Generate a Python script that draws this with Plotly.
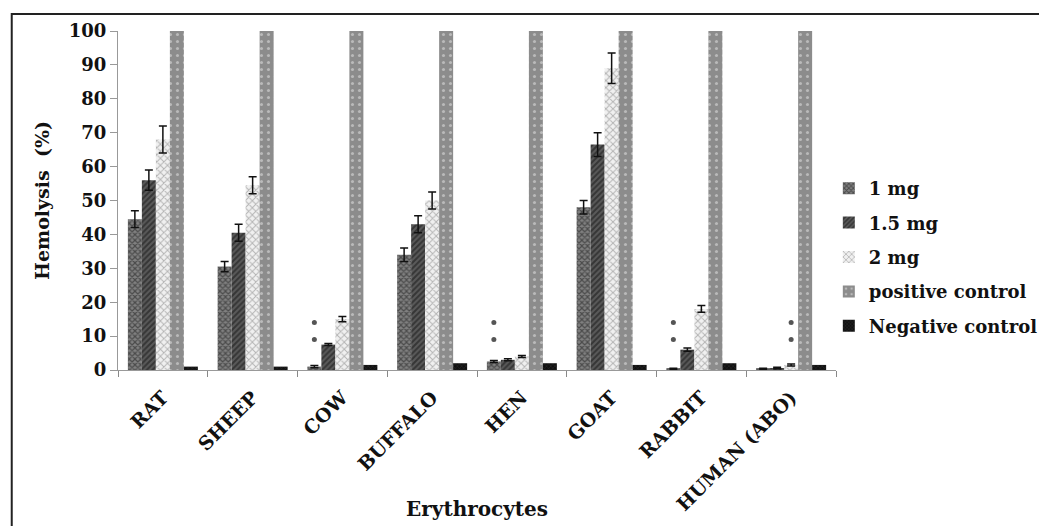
import plotly.graph_objects as go

categories = ["RAT", "SHEEP", "COW", "BUFFALO", "HEN", "GOAT", "RABBIT", "HUMAN (ABO)"]
series_names = ["1 mg", "1.5 mg", "2 mg", "positive control", "Negative control"]
v_1mg = [44.5, 30.5, 1.0, 34.0, 2.5, 48.0, 0.3, 0.3]
v_15mg = [56.0, 40.5, 7.5, 43.0, 3.0, 66.5, 6.0, 0.6]
v_2mg = [68.0, 54.5, 15.0, 50.0, 4.0, 89.0, 18.0, 1.5]
v_pos = [100, 100, 100, 100, 100, 100, 100, 100]
v_neg = [1.0, 1.0, 1.5, 2.0, 2.0, 1.5, 2.0, 1.5]
e_1mg = [2.5, 1.5, 0.3, 2.0, 0.3, 2.0, 0.2, 0.2]
e_15mg = [3.0, 2.5, 0.3, 2.5, 0.3, 3.5, 0.5, 0.2]
e_2mg = [4.0, 2.5, 0.8, 2.5, 0.3, 4.5, 1.0, 0.3]
# significance stars: category index, series index, heights
star_cats = [2, 4, 6, 7]
star_series = [0, 0, 0, 2]
star_heights = [9.0, 14.0]

font_family = "DejaVu Serif, Liberation Serif, serif"
bargap = 0.22
nser = 5

styles = [
    dict(color="#5e5e5e", pattern=dict(shape="x", fgcolor="#151515", bgcolor="#808080", size=4, solidity=0.5)),
    dict(color="#333333", pattern=dict(shape="/", fgcolor="#111", bgcolor="#5a5a5a", size=4, solidity=0.5)),
    dict(color="#cfcfcf", pattern=dict(shape="x", fgcolor="#777", bgcolor="#f0f0f0", size=5, solidity=0.35)),
    dict(color="#8c8c8c", pattern=dict(shape=".", fgcolor="#e8e8e8", bgcolor="#8c8c8c", size=7, solidity=0.15)),
    dict(color="#1a1a1a", pattern=dict(shape="x", fgcolor="#444", bgcolor="#111", size=3, solidity=0.3)),
]
values = [v_1mg, v_15mg, v_2mg, v_pos, v_neg]
errors = [e_1mg, e_15mg, e_2mg, None, None]

xs = list(range(len(categories)))
fig = go.Figure()
for k in range(nser):
    tr = dict(
        x=xs, y=values[k], name=series_names[k],
        marker=dict(color=styles[k]["color"], pattern=styles[k]["pattern"], line=dict(width=0)),
        legendgroup=f"g{k}",
    )
    if errors[k] is not None:
        tr["error_y"] = dict(type="data", array=errors[k], color="#111", thickness=1.5, width=4)
    fig.add_trace(go.Bar(**tr))

# stars
group_w = 1 - bargap
bar_w = group_w / nser
sx, sy = [], []
for c, s in zip(star_cats, star_series):
    xpos = c - group_w / 2 + bar_w * (s + 0.5)
    for h in star_heights:
        sx.append(xpos)
        sy.append(h)
fig.add_trace(go.Scatter(x=sx, y=sy, mode="markers",
                         marker=dict(symbol="circle", size=5, color="#555555"),
                         showlegend=False, hoverinfo="skip"))

fig.update_layout(
    width=1047, height=526,
    margin=dict(l=110, r=215, t=20, b=164),
    paper_bgcolor="white", plot_bgcolor="white",
    barmode="group", bargap=bargap, bargroupgap=0.0,
    font=dict(family=font_family, color="#111", size=17),
    showlegend=True,
    legend=dict(x=0.99, y=0.59, xanchor="left", yanchor="top",
                font=dict(family=font_family, size=18, color="#111", weight="bold"),
                traceorder="grouped", tracegroupgap=8, itemwidth=30,
                bgcolor="rgba(0,0,0,0)"),
    shapes=[dict(type="rect", xref="paper", yref="paper", x0=-0.148, x1=1.4, y0=-0.6, y1=1.05,
                 line=dict(color="#222", width=2), fillcolor="rgba(0,0,0,0)", layer="below")],
    annotations=[dict(text="<b>Erythrocytes</b>", xref="paper", yref="paper", x=0.5, y=-0.41,
                      xanchor="center", yanchor="middle", showarrow=False,
                      font=dict(family=font_family, size=20, color="#111"))],
)
fig.update_xaxes(
    range=[-0.5, len(categories) - 0.5],
    tickmode="array", tickvals=xs, ticktext=categories, tickangle=-45,
    ticks="", showline=True, linecolor="#999", linewidth=1, showgrid=False, zeroline=False,
    tickfont=dict(family=font_family, size=19, color="#111", weight="bold"),
    ticklabelstandoff=8,
    minor=dict(tickmode="array", tickvals=[i - 0.5 for i in range(len(categories) + 1)],
               ticks="outside", ticklen=6, tickcolor="#888", showgrid=False),
)
fig.update_yaxes(
    range=[0, 100], dtick=10, ticks="outside", ticklen=7, tickcolor="#999",
    showline=True, linecolor="#999", linewidth=1, showgrid=False, zeroline=False,
    tickfont=dict(family=font_family, size=18, color="#111", weight="bold"),
    title=dict(text="Hemolysis  (%)", font=dict(family=font_family, size=19, color="#111", weight="bold"), standoff=14),
)
fig.write_html("out.html")
